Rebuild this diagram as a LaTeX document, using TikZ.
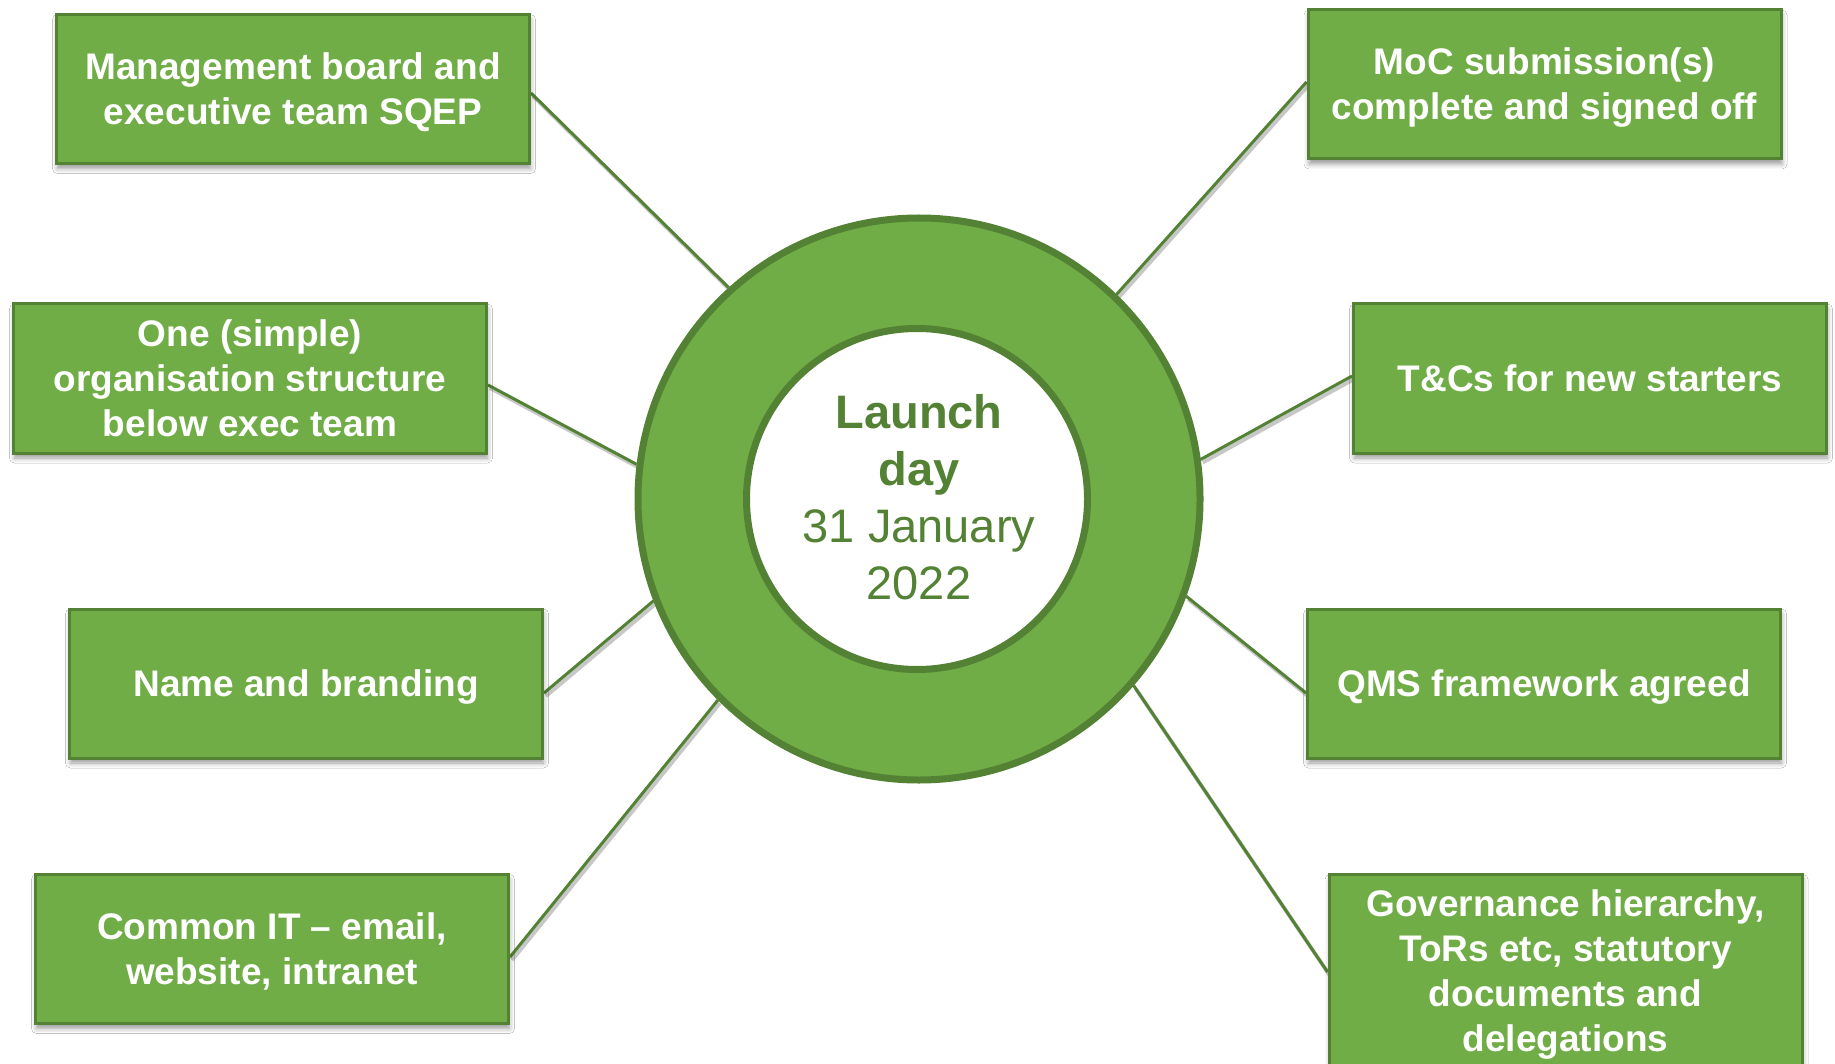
\documentclass[tikz,border=0pt]{standalone}
\usepackage{fontspec}
\setmainfont{Liberation Sans}
\usetikzlibrary{shadows.blur,backgrounds}
\definecolor{gfill}{HTML}{70AD47}
\definecolor{gline}{HTML}{548235}
\newcommand\ts{\rule{0pt}{33.5pt}}
\newcommand\bs{\rule[-7.8pt]{0pt}{7.8pt}}
\begin{document}
\begin{tikzpicture}[x=1pt,y=-1pt,
  box/.style={rectangle, draw=gline, line width=3pt, fill=gfill, text=white,
    font=\bfseries\fontsize{37}{45}\selectfont, align=center,
    minimum width=473pt, minimum height=149pt, inner sep=0pt,
    blur shadow={shadow xshift=1pt, shadow yshift=-5pt, shadow blur radius=5pt, shadow opacity=40}},
  conn/.style={draw=gline, line width=3pt,
    preaction={draw=black!22, line width=4pt, transform canvas={xshift=2pt, yshift=-3pt}}}]
\useasboundingbox (0,0) rectangle (1835,1064);

\node[box] (b1) at (293,89) {\ts Management board and\\executive team SQEP\bs};
\node[box] (b2) at (250,378.5) {\ts One (simple)\\organisation structure\\below exec team\bs};
\node[box] (b3) at (306,683.5) {\ts Name and branding\bs};
\node[box] (b4) at (272,949) {\ts Common IT -- email,\\website, intranet\bs};
\node[box] (b5) at (1544.5,84.5) {\ts MoC submission(s)\\complete and signed off\bs};
\node[box] (b6) at (1590,378.5) {\ts T\&Cs for new starters\bs};
\node[box] (b7) at (1544,683.5) {\ts QMS framework agreed\bs};
\node[box, minimum height=193pt] (b8) at (1565.5,971) {\ts Governance hierarchy,\\ToRs etc, statutory\\documents and\\delegations\bs};

\node[circle, draw=gline, line width=7pt, fill=gfill, minimum size=562pt] (ring) at (919,499) {};
\node[circle, draw=gline, line width=7pt, fill=white, minimum size=341pt] (hub) at (917,499) {};
\node[align=center, text=gline, font=\fontsize{47}{57}\selectfont] (lbl) at (919,497.5)
  {\textbf{Launch}\\\textbf{day}\\31 January\\2022};

\begin{scope}[on background layer]
\fill[white] (0,0) rectangle (1835,1064);
\draw[conn] ([yshift=-4pt]b1.east) -- (ring.132.9);
\draw[conn] ([yshift=-6.5pt]b2.east) -- (ring.173.2);
\draw[conn] ([yshift=-9.5pt]b3.east) -- (ring.201.3);
\draw[conn] ([yshift=-8pt]b4.east) -- (ring.225);
\draw[conn] ([yshift=2.5pt]b5.west) -- (ring.46.8);
\draw[conn] ([yshift=2.5pt]b6.west) -- (ring.8.6);
\draw[conn] ([yshift=-9.5pt]b7.west) -- (ring.340.6);
\draw[conn] ([yshift=-1pt]b8.west) -- (ring.319.5);
\end{scope}
\end{tikzpicture}
\end{document}
